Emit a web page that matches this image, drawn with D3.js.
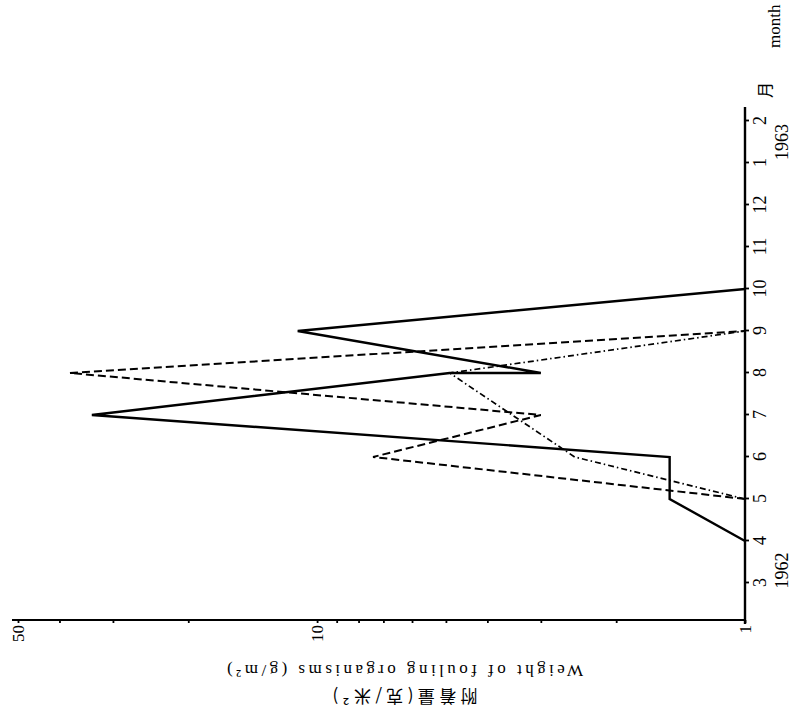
<!DOCTYPE html>
<html><head><meta charset="utf-8">
<script src="https://cdn.jsdelivr.net/npm/d3@7"></script>
<style>body{margin:0;background:#fff}svg{display:block}</style>
</head><body>
<svg id="c" width="795" height="712"></svg>
<script>
// ---- data ----
const months = [3,4,5,6,7,8,9,10,11,12,13,14];
const monthLabels = ["3","4","5","6","7","8","9","10","11","12","1","2"];
const weightTicks = [1,2,3,4,5,6,7,8,9,10,20,30,40,50];
const weightLabels = [1,10,50];
const yearLabels = ["1962","1963"];
const yearPositions = [3.3,13.5];
const solidMonths = [4,5,6,7,8,8,9,10];
const solidValues = [1,1.5,1.5,33.6,4.9,3.0,11.1,1];
const dashedMonths = [5,6,7,8,9];
const dashedValues = [1,7.4,3.0,37.8,1];
const dashDotMonths = [5,6,8,9];
const dashDotValues = [1,2.5,4.9,1];
const yTitleEn = "Weight of fouling organisms (g/m²)";
const yTitleZh = "附着量(克/米²)";

// ---- drawing ----
const svg = d3.select("#c");
svg.append("rect").attr("width",795).attr("height",712).attr("fill","#fff");
const serif = "'Liberation Serif','DejaVu Serif',serif";
// chart drawn upright, then turned a quarter turn counter-clockwise
const g = svg.append("g").attr("transform","translate(0,712) rotate(-90)");

const x = d3.scaleLinear().domain([3,14]).range([129,591]);
const y = d3.scaleLog().domain([1,50]).range([745,18]);
const axisY = 745;   // position of month axis (original vertical coordinate)
const axisX = 92;    // position of weight axis (original horizontal coordinate)

// month axis
const xa = g.append("g").attr("transform",`translate(0,${axisY})`)
  .call(d3.axisBottom(x).tickValues(months).tickFormat((d,i)=>monthLabels[i])
    .tickSize(4).tickPadding(4).tickSizeOuter(0));
xa.select(".domain").remove();
xa.selectAll("line").attr("stroke","#000").attr("stroke-width",1.8);
xa.selectAll("text").style("font-family",serif).style("font-size","18px").attr("fill","#000");
g.append("line").attr("x1",axisX-4).attr("x2",605).attr("y1",axisY).attr("y2",axisY)
  .attr("stroke","#000").attr("stroke-width",2.4);

// weight axis (log)
const ya = g.append("g").attr("transform",`translate(${axisX},0)`)
  .call(d3.axisLeft(y).tickValues(weightTicks)
    .tickFormat(d=>weightLabels.includes(d)?String(d):"")
    .tickSize(3).tickPadding(2).tickSizeOuter(0));
ya.select(".domain").remove();
ya.selectAll("line").attr("stroke","#000").attr("stroke-width",1.8);
ya.selectAll("text").style("font-family",serif).style("font-size","17px").attr("fill","#000");
g.append("line").attr("x1",axisX).attr("x2",axisX).attr("y1",axisY+1).attr("y2",12)
  .attr("stroke","#000").attr("stroke-width",2.2);

// year labels
g.selectAll("text.year").data(yearLabels).join("text").attr("class","year")
  .attr("x",(d,i)=>x(yearPositions[i])).attr("y",axisY+43)
  .attr("text-anchor","middle").style("font-family",serif).style("font-size","18px")
  .text(d=>d);

// month unit
g.append("text").attr("x",614).attr("y",axisY+26)
  .style("font-family","'Noto Sans CJK SC',sans-serif").style("font-size","16px").text("月");
g.append("text").attr("x",664).attr("y",axisY+35)
  .style("font-family",serif).style("font-size","17px").text("month");

// series
const line = d3.line().x(d=>x(d[0])).y(d=>y(d[1]));
const series = [
  {m:solidMonths, v:solidValues, dash:null, w:2.4},
  {m:dashedMonths, v:dashedValues, dash:"8,4", w:2},
  {m:dashDotMonths, v:dashDotValues, dash:"6,3,1.5,3", w:1.7}
];
series.forEach(s=>{
  g.append("path").datum(d3.zip(s.m,s.v)).attr("d",line)
    .attr("fill","none").attr("stroke","#000").attr("stroke-width",s.w)
    .attr("stroke-linejoin","miter")
    .attr("stroke-dasharray",s.dash);
});

// axis titles (upside down in the picture)
svg.append("text").attr("transform","translate(405,665) rotate(180)")
  .attr("text-anchor","middle").style("font-family",serif).style("font-size","17px")
  .attr("textLength",356).attr("lengthAdjust","spacing").text(yTitleEn);
svg.append("text").attr("transform","translate(405,690) rotate(180)")
  .attr("text-anchor","middle").style("font-family","'Noto Sans CJK SC',sans-serif").style("font-size","17px")
  .attr("textLength",145).attr("lengthAdjust","spacing").text(yTitleZh);
</script>
</body></html>
